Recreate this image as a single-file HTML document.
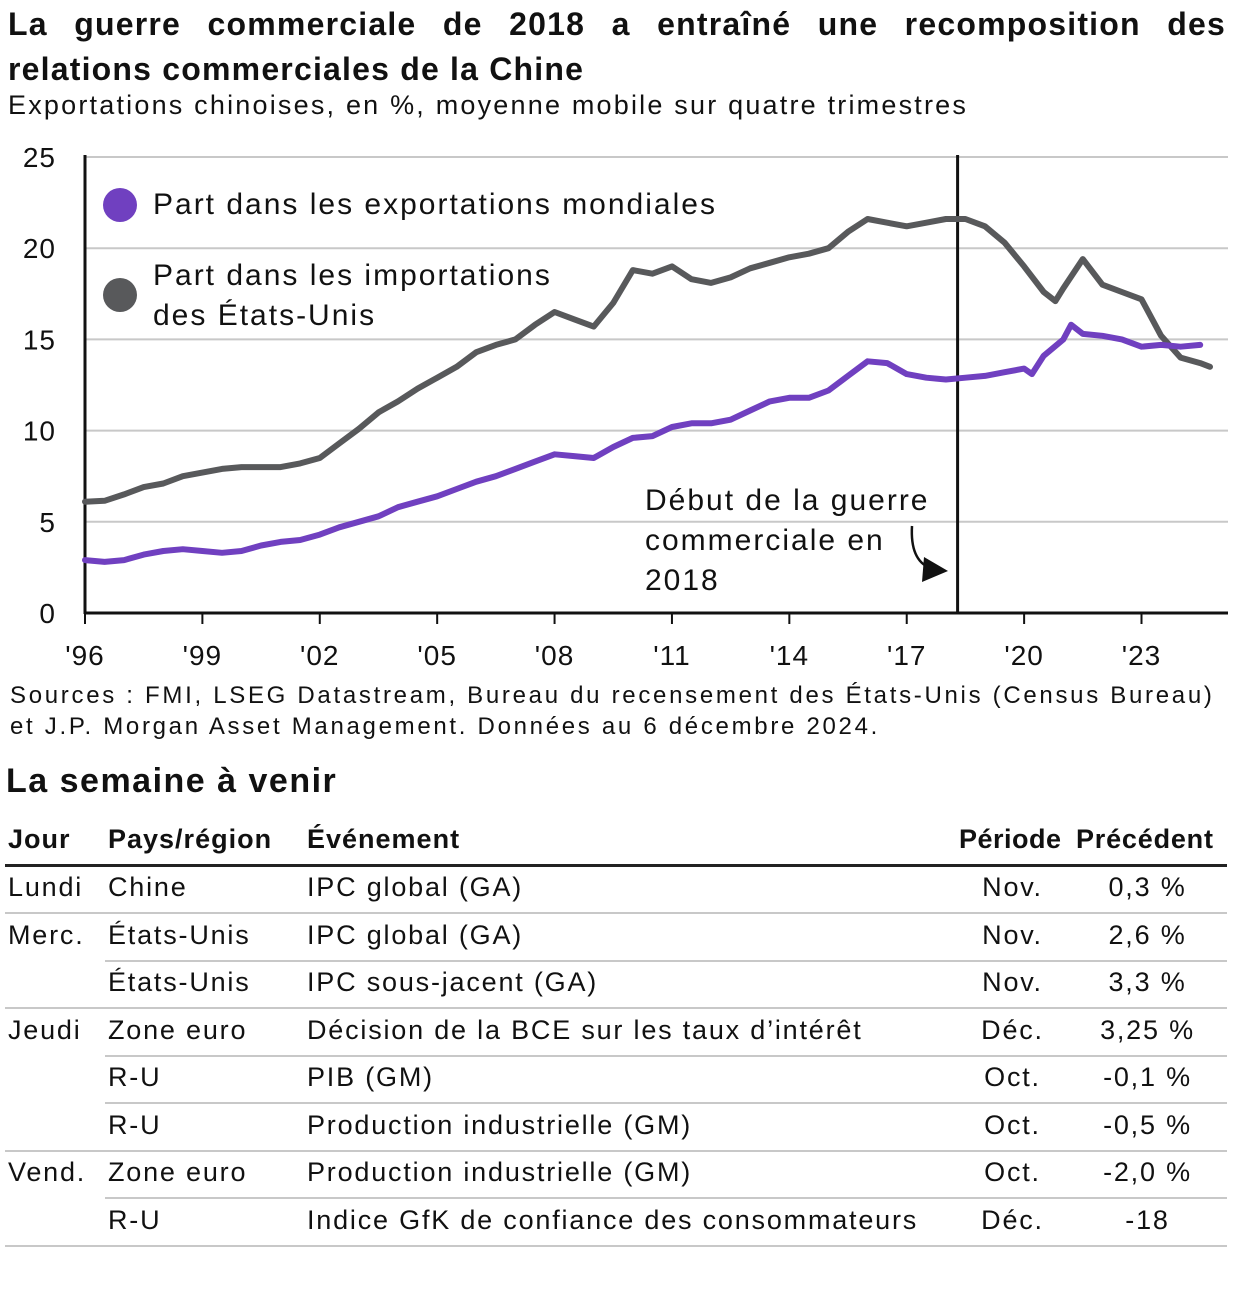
<!DOCTYPE html>
<html><head><meta charset="utf-8">
<style>
body{margin:0;width:1242px;height:1310px;background:#fff;font-family:"Liberation Sans",sans-serif;color:#111;position:relative;overflow:hidden}
.a{position:absolute;white-space:nowrap}
.td{position:absolute;font-size:27px;white-space:nowrap;letter-spacing:1.8px}
.hl{position:absolute;height:2px;background:#c8c8c8}
</style></head><body>
<div class="a" style="left:8px;top:2px;width:1218px;font-size:32px;letter-spacing:1.2px;font-weight:bold;white-space:normal;text-align:justify;text-align-last:left;line-height:45px">La guerre commerciale de 2018 a entraîné une recomposition des relations commerciales de la Chine</div>
<div class="a" style="left:8px;top:90px;font-size:27px;letter-spacing:2.2px">Exportations chinoises, en %, moyenne mobile sur quatre trimestres</div>
<svg id="chart" width="1242" height="690" style="position:absolute;left:0;top:0"></svg>
<div class="a" style="left:10px;top:680px;font-size:24px;line-height:31px;letter-spacing:2.7px">Sources : FMI, LSEG Datastream, Bureau du recensement des États-Unis (Census Bureau)<br>et J.P. Morgan Asset Management. Données au 6 décembre 2024.</div>
<div class="a" style="left:6px;top:762px;font-size:34px;font-weight:bold;letter-spacing:1.5px">La semaine à venir</div>
<div id="tbl"></div>
<script>
const years=[1996,1996.5,1997,1997.5,1998,1998.5,1999,1999.5,2000,2000.5,2001,2001.5,2002,2002.5,2003,2003.5,2004,2004.5,2005,2005.5,2006,2006.5,2007,2007.5,2008,2008.5,2009,2009.5,2010,2010.5,2011,2011.5,2012,2012.5,2013,2013.5,2014,2014.5,2015,2015.5,2016,2016.5,2017,2017.5,2018,2018.5,2019,2019.5,2020,2020.5,2020.8,2021,2021.5,2022,2022.5,2023,2023.5,2024,2024.5,2024.75];
const usImports=[6.1,6.15,6.5,6.9,7.1,7.5,7.7,7.9,8.0,8.0,8.0,8.2,8.5,9.3,10.1,11.0,11.6,12.3,12.9,13.5,14.3,14.7,15.0,15.8,16.5,16.1,15.7,17.0,18.8,18.6,19.0,18.3,18.1,18.4,18.9,19.2,19.5,19.7,20.0,20.9,21.6,21.4,21.2,21.4,21.6,21.6,21.2,20.3,19.0,17.6,17.1,17.8,19.4,18.0,17.6,17.2,15.2,14.0,13.7,13.5];
const pYears=[1996,1996.5,1997,1997.5,1998,1998.5,1999,1999.5,2000,2000.5,2001,2001.5,2002,2002.5,2003,2003.5,2004,2004.5,2005,2005.5,2006,2006.5,2007,2007.5,2008,2008.5,2009,2009.5,2010,2010.5,2011,2011.5,2012,2012.5,2013,2013.5,2014,2014.5,2015,2015.5,2016,2016.5,2017,2017.5,2018,2018.5,2019,2019.5,2020,2020.2,2020.5,2021,2021.2,2021.5,2022,2022.5,2023,2023.5,2024,2024.5];
const worldShare=[2.9,2.8,2.9,3.2,3.4,3.5,3.4,3.3,3.4,3.7,3.9,4.0,4.3,4.7,5.0,5.3,5.8,6.1,6.4,6.8,7.2,7.5,7.9,8.3,8.7,8.6,8.5,9.1,9.6,9.7,10.2,10.4,10.4,10.6,11.1,11.6,11.8,11.8,12.2,13.0,13.8,13.7,13.1,12.9,12.8,12.9,13.0,13.2,13.4,13.1,14.1,15.0,15.8,15.3,15.2,15.0,14.6,14.7,14.6,14.7];
const yTicks=[0,5,10,15,20,25];
const xTicks=["'96","'99","'02","'05","'08","'11","'14","'17","'20","'23"];
const xTickYears=[1996,1999,2002,2005,2008,2011,2014,2017,2020,2023];
const warYear=2018.3;
const NS='http://www.w3.org/2000/svg';
const svg=document.getElementById('chart');
const X=v=>85+(v-1996)*39.13, Y=v=>613-v*18.24;
function mk(t,a,txt){const e=document.createElementNS(NS,t);for(const k in a)e.setAttribute(k,a[k]);if(txt!==undefined)e.textContent=txt;svg.appendChild(e);return e;}
yTicks.forEach(t=>{
 if(t>0){const l=mk('line',{x1:85,x2:1228,y1:Y(t),y2:Y(t),stroke:'#c8c8c8','stroke-width':2});
 
 }
 const tx=mk('text',{x:56,y:Y(t)+10,'text-anchor':'end','font-size':28,'letter-spacing':1,'font-family':'Liberation Sans',fill:'#111'},t);
 
 
});
xTicks.forEach((t,i)=>{
 const tx=mk('text',{x:X(xTickYears[i]),y:665,'text-anchor':'middle','font-size':28,'letter-spacing':1,'font-family':'Liberation Sans',fill:'#111'},t);
 
 
 const tk=mk('line',{x1:X(xTickYears[i]),x2:X(xTickYears[i]),y1:613,y2:624,stroke:'#111','stroke-width':2});
 
 
});
const ax=mk('line',{x1:85,x2:85,y1:155,y2:614,stroke:'#111','stroke-width':3});


const bx=mk('line',{x1:84,x2:1228,y1:613,y2:613,stroke:'#111','stroke-width':3});


const wl=mk('line',{x1:X(warYear),x2:X(warYear),y1:155,y2:614,stroke:'#111','stroke-width':3});


function line(xs,ys,c,n){const d=xs.map((x,i)=>(i?'L':'M')+X(x).toFixed(1)+' '+Y(ys[i]).toFixed(1)).join(' ');
 const p=mk('path',{d:d,fill:'none',stroke:c,'stroke-width':6,'stroke-linejoin':'round','stroke-linecap':'round'});
 
 }
line(years,usImports,'#58595b','us-imports-line');
line(pYears,worldShare,'#7040c0','world-exports-line');
const c1=mk('circle',{cx:120,cy:205,r:17,fill:'#7040c0'});


const c2=mk('circle',{cx:120,cy:295,r:17,fill:'#58595b'});


[['Part dans les exportations mondiales',153,214],['Part dans les importations',153,285],['des États-Unis',153,325]].forEach(a=>{
 const t=mk('text',{x:a[1],y:a[2],'font-size':30,'letter-spacing':2,'font-family':'Liberation Sans',fill:'#111'},a[0]);
 
 });
[['Début de la guerre',645,510],['commerciale en',645,550],['2018',645,590]].forEach(a=>{
 const t=mk('text',{x:a[1],y:a[2],'font-size':30,'letter-spacing':2,'font-family':'Liberation Sans',fill:'#111'},a[0]);
 
 });
const ar=mk('path',{d:'M912 526 Q910 560 930 568',fill:'none',stroke:'#111','stroke-width':2.5});


const ah=mk('path',{d:'M924 557 L948 571 L922 582 Z',fill:'#111'});



const rows=[['Lundi','Chine','IPC global (GA)','Nov.','0,3 %'],['Merc.','États-Unis','IPC global (GA)','Nov.','2,6 %'],['','États-Unis','IPC sous-jacent (GA)','Nov.','3,3 %'],['Jeudi','Zone euro','Décision de la BCE sur les taux d’intérêt','Déc.','3,25 %'],['','R-U','PIB (GM)','Oct.','-0,1 %'],['','R-U','Production industrielle (GM)','Oct.','-0,5 %'],['Vend.','Zone euro','Production industrielle (GM)','Oct.','-2,0 %'],['','R-U','Indice GfK de confiance des consommateurs','Déc.','-18']];
const tbl=document.getElementById('tbl');
function div(cls,style,txt,name){const d=document.createElement('div');d.className=cls;d.style.cssText=style;if(txt!==undefined)d.textContent=txt;
 
 
 tbl.appendChild(d);return d;}
const hdr=[['Jour',8],['Pays/région',108],['Événement',307]];
hdr.forEach(h=>div('td','left:'+h[1]+'px;top:824px;font-weight:bold;letter-spacing:1px',h[0],'header-cell'));
div('td','left:959px;top:824px;font-weight:bold;letter-spacing:0.5px','Période','header-cell');
div('td','left:1076px;top:824px;font-weight:bold;letter-spacing:0.8px','Précédent','header-cell');
div('hl','left:5px;width:1222px;top:864px;height:3px;background:#222','',  'header-rule');
rows.forEach((r,i)=>{const top=872+i*47.5;
 div('td','left:8px;top:'+top+'px',r[0],'day-cell');
 div('td','left:108px;top:'+top+'px',r[1],'country-cell');
 div('td','left:307px;top:'+top+'px',r[2],'event-cell');
 div('td','left:960px;width:105px;text-align:center;top:'+top+'px',r[3],'period-cell');
 div('td','left:1090px;width:115px;text-align:center;top:'+top+'px',r[4],'previous-cell');
 const full=(i==7)||rows[i+1][0]!=='';
 div('hl','left:'+(full?5:105)+'px;width:'+(full?1222:1122)+'px;top:'+(912+i*47.5)+'px','','row-divider');
});
</script>
</body></html>
